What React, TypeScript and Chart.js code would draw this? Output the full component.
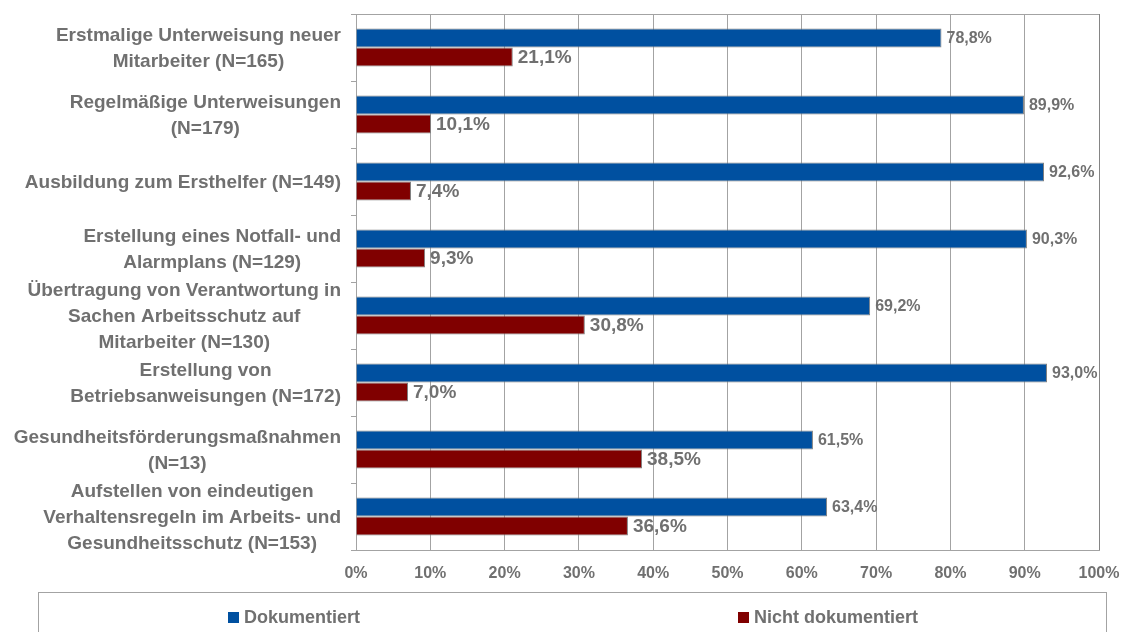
import React, { useEffect, useRef } from "react";
import { Chart, registerables } from "chart.js";

Chart.register(...registerables);

const categories: string[][] = [
  ["Erstmalige Unterweisung neuer", "Mitarbeiter (N=165)"],
  ["Regelmäßige Unterweisungen", "(N=179)"],
  ["Ausbildung zum Ersthelfer (N=149)"],
  ["Erstellung eines Notfall- und", "Alarmplans (N=129)"],
  ["Übertragung von Verantwortung in", "Sachen Arbeitsschutz auf", "Mitarbeiter (N=130)"],
  ["Erstellung von", "Betriebsanweisungen (N=172)"],
  ["Gesundheitsförderungsmaßnahmen", "(N=13)"],
  ["Aufstellen von eindeutigen", "Verhaltensregeln im Arbeits- und", "Gesundheitsschutz (N=153)"],
];

const seriesNames = ["Dokumentiert", "Nicht dokumentiert"];
const dokumentiert = [78.8, 89.9, 92.6, 90.3, 69.2, 93.0, 61.5, 63.4];
const nichtDokumentiert = [21.1, 10.1, 7.4, 9.3, 30.8, 7.0, 38.5, 36.6];
const xTicks = [0, 10, 20, 30, 40, 50, 60, 70, 80, 90, 100];

const BLUE = "#0050A0";
const RED = "#800000";
const TEXT = "#707070";
const GRID = "#a3a3a3";
const FONT = "'Liberation Sans', Arial, sans-serif";

const fmt = (v: number) => v.toFixed(1).replace(".", ",") + "%";

const customPlugin = {
  id: "customDraw",
  afterDatasetsDraw(chart: any) {
    const ctx = chart.ctx;
    ctx.save();
    ctx.fillStyle = TEXT;
    ctx.textBaseline = "middle";
    ctx.textAlign = "left";
    chart.data.datasets.forEach((ds: any, d: number) => {
      const meta = chart.getDatasetMeta(d);
      ctx.font = `bold ${d === 0 ? 16 : 19}px ${FONT}`;
      meta.data.forEach((bar: any, i: number) => {
        const { x, y } = bar.getProps(["x", "y"], true);
        ctx.fillText(fmt(ds.data[i]), x + 5, y + 1);
      });
    });
    ctx.restore();
  },
  afterDraw(chart: any) {
    const ctx = chart.ctx;
    const { left, right, top } = chart.chartArea;
    const yScale = chart.scales.y;
    ctx.save();
    ctx.strokeStyle = GRID;
    ctx.lineWidth = 1;
    ctx.beginPath();
    ctx.moveTo(left, Math.round(top) + 0.5);
    ctx.lineTo(right, Math.round(top) + 0.5);
    ctx.stroke();
    ctx.strokeStyle = "#858585";
    ctx.beginPath();
    ctx.moveTo(Math.round(right) + 0.5, top);
    ctx.lineTo(Math.round(right) + 0.5, chart.chartArea.bottom);
    ctx.stroke();

    ctx.font = `bold 19px ${FONT}`;
    ctx.fillStyle = TEXT;
    ctx.textBaseline = "middle";
    ctx.textAlign = "center";
    const lineH = 26;
    const labelRight = left - 15;
    categories.forEach((lines, i) => {
      const cy = yScale.getPixelForValue(i);
      const widest = Math.max(...lines.map((l) => ctx.measureText(l).width));
      const cx = labelRight - widest / 2;
      lines.forEach((l, j) => {
        ctx.fillText(l, cx, cy + (j - (lines.length - 1) / 2) * lineH + 1);
      });
    });

    ctx.strokeStyle = GRID;
    ctx.strokeRect(38.5, 592.5, 1068, 80);
    const items = [
      { name: seriesNames[0], color: BLUE, x: 228 },
      { name: seriesNames[1], color: RED, x: 738 },
    ];
    ctx.font = `bold 18px ${FONT}`;
    ctx.textAlign = "left";
    items.forEach((it) => {
      ctx.fillStyle = it.color;
      ctx.fillRect(it.x, 612, 11, 11);
      ctx.fillStyle = TEXT;
      ctx.fillText(it.name, it.x + 16, 618);
    });
    ctx.restore();
  },
};

export default function App() {
  const ref = useRef<HTMLCanvasElement>(null);
  useEffect(() => {
    if (!ref.current) return;
    Chart.defaults.font.family = FONT;
    const chart = new Chart(ref.current, {
      type: "bar",
      data: {
        labels: categories,
        datasets: [
          {
            label: seriesNames[0],
            data: dokumentiert,
            backgroundColor: BLUE,
            borderColor: "#7f7f7f",
            borderWidth: 1,
            categoryPercentage: 0.57,
            barPercentage: 1,
          },
          {
            label: seriesNames[1],
            data: nichtDokumentiert,
            backgroundColor: RED,
            borderColor: "#7f7f7f",
            borderWidth: 1,
            categoryPercentage: 0.57,
            barPercentage: 1,
          },
        ],
      },
      options: {
        indexAxis: "y",
        animation: false,
        responsive: false,
        devicePixelRatio: 1,
        layout: { padding: { top: 14, right: 24, left: 0, bottom: 0 } },
        plugins: {
          legend: { display: false },
          tooltip: { enabled: false },
        },
        scales: {
          x: {
            min: 0,
            max: 100,
            afterBuildTicks: (scale: any) => {
              scale.ticks = xTicks.map((v) => ({ value: v }));
            },
            afterFit: (scale: any) => {
              scale.height = 82;
              scale.paddingLeft = 0;
              scale.paddingRight = 0;
            },
            grid: { color: GRID, drawTicks: false, lineWidth: 1 },
            border: { color: GRID },
            ticks: {
              padding: 14,
              color: TEXT,
              font: { size: 16, weight: "bold" },
              callback: (v: any) => v + "%",
              maxRotation: 0,
            },
          },
          y: {
            afterFit: (scale: any) => {
              scale.width = 356;
              scale.paddingTop = 0;
              scale.paddingBottom = 0;
            },
            grid: {
              color: GRID,
              drawOnChartArea: false,
              drawTicks: true,
              tickLength: 5,
              offset: true,
            },
            border: { color: GRID },
            ticks: { display: false },
          },
        },
      },
      plugins: [customPlugin],
    });
    return () => chart.destroy();
  }, []);
  return (
    <div style={{ position: "fixed", left: 0, top: 0, width: 1123, height: 632, background: "#fff" }}>
      <canvas ref={ref} width={1123} height={632} style={{ display: "block" }} />
    </div>
  );
}
